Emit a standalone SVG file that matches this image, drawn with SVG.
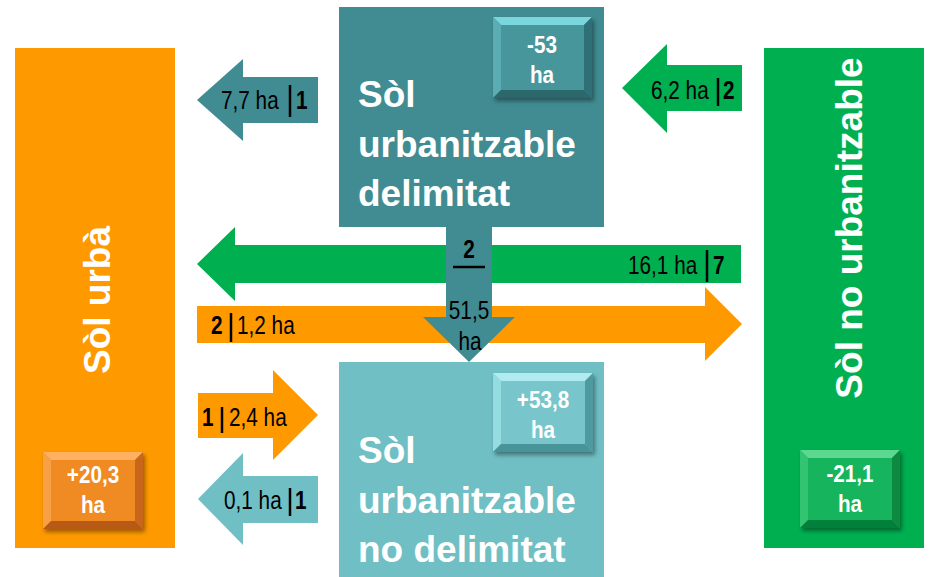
<svg xmlns="http://www.w3.org/2000/svg" width="930" height="577" viewBox="0 0 930 577">
<style>
.big{font-family:"Liberation Sans",Arial,sans-serif;font-weight:bold;font-size:37px;fill:#fff}
.badge{font-family:"Liberation Sans",Arial,sans-serif;font-weight:bold;font-size:23px;fill:#fff;text-anchor:middle}
.lbl{font-family:"Liberation Sans",Arial,sans-serif;font-size:25px;fill:#000}
.b{font-weight:bold}
.bar{stroke:#000;stroke-width:2.5}
</style>
<defs>
<filter id="sh" x="-20%" y="-20%" width="150%" height="150%">
<feDropShadow dx="2" dy="3" stdDeviation="2" flood-color="#000" flood-opacity="0.4"/>
</filter>
</defs>
<rect width="930" height="577" fill="#fff"/>

<g id="sol-urba">
<rect x="15" y="48" width="160" height="500" fill="#FF9900"/>
<text class="big" transform="translate(110,300) rotate(-90)" text-anchor="middle">Sòl urbà</text>
<g filter="url(#sh)">
<rect x="43" y="452" width="100" height="77" fill="#F08A24"/>
<polygon points="43,452 143,452 135,460 51,460" fill="#FFB060"/>
<polygon points="43,452 51,460 51,521 43,529" fill="#F7A045"/>
<polygon points="143,452 143,529 135,521 135,460" fill="#C8661A"/>
<polygon points="43,529 143,529 135,521 51,521" fill="#B85A12"/>
</g>
<text class="badge" transform="translate(93,483) scale(0.9,1)">+20,3</text>
<text class="badge" transform="translate(93,513) scale(0.9,1)">ha</text>
</g>

<g id="sol-no-urbanitzable">
<rect x="764" y="48" width="160" height="500" fill="#00B050"/>
<text class="big" transform="translate(862,228) rotate(-90)" text-anchor="middle">Sòl no urbanitzable</text>
<g filter="url(#sh)">
<rect x="800" y="450" width="100" height="78" fill="#14B45C"/>
<polygon points="800,450 900,450 892,458 808,458" fill="#5CD890"/>
<polygon points="800,450 808,458 808,520 800,528" fill="#30C470"/>
<polygon points="900,450 900,528 892,520 892,458" fill="#078A40"/>
<polygon points="800,528 900,528 892,520 808,520" fill="#06803A"/>
</g>
<text class="badge" transform="translate(850,482) scale(0.9,1)">-21,1</text>
<text class="badge" transform="translate(850,512) scale(0.9,1)">ha</text>
</g>

<g id="sol-urbanitzable-delimitat">
<rect x="339" y="7" width="265" height="220" fill="#408C92"/>
<text class="big" x="358" y="107">Sòl</text>
<text class="big" x="358" y="157">urbanitzable</text>
<text class="big" x="358" y="206">delimitat</text>
<g filter="url(#sh)">
<rect x="493" y="17" width="99" height="81" fill="#47969C"/>
<polygon points="493,17 592,17 584,25 501,25" fill="#7AD6DC"/>
<polygon points="493,17 501,25 501,90 493,98" fill="#5AADB3"/>
<polygon points="592,17 592,98 584,90 584,25" fill="#2F6F74"/>
<polygon points="493,98 592,98 584,90 501,90" fill="#2B676C"/>
</g>
<text class="badge" transform="translate(542,53) scale(0.9,1)">-53</text>
<text class="badge" transform="translate(542,83) scale(0.9,1)">ha</text>
</g>

<g id="sol-urbanitzable-no-delimitat">
<rect x="339" y="362" width="265" height="215" fill="#70BFC5"/>
<text class="big" x="358" y="463">Sòl</text>
<text class="big" x="358" y="513">urbanitzable</text>
<text class="big" x="358" y="562">no delimitat</text>
<g filter="url(#sh)">
<rect x="493" y="373" width="100" height="79" fill="#78C6CB"/>
<polygon points="493,373 593,373 585,381 501,381" fill="#B0ECEF"/>
<polygon points="493,373 501,381 501,444 493,452" fill="#95DCE0"/>
<polygon points="593,373 593,452 585,444 585,381" fill="#4E9A9F"/>
<polygon points="493,452 593,452 585,444 501,444" fill="#4A9499"/>
</g>
<text class="badge" transform="translate(543,408) scale(0.9,1)">+53,8</text>
<text class="badge" transform="translate(543,438) scale(0.9,1)">ha</text>
</g>

<g id="connectors">
<polygon points="318,77 243,77 243,59 197,100 243,141 243,123 318,123" fill="#408C92"/>
<text class="lbl" transform="translate(221,109) scale(0.83,1)">7,7 ha</text><line class="bar" x1="290" y1="85" x2="290" y2="117"/><text class="lbl b" transform="translate(296,109) scale(0.83,1)">1</text>

<polygon points="742,65 667,65 667,44 622,88 667,133 667,111 742,111" fill="#00B050"/>
<text class="lbl" transform="translate(651,99) scale(0.83,1)">6,2 ha</text><line class="bar" x1="718" y1="78" x2="718" y2="106"/><text class="lbl b" transform="translate(723,99) scale(0.83,1)">2</text>

<polygon points="741,245 235,245 235,227 197,264 235,301 235,283 741,283" fill="#00B050"/>
<text class="lbl" transform="translate(628,274) scale(0.83,1)">16,1 ha</text><line class="bar" x1="707" y1="250" x2="707" y2="282"/><text class="lbl b" transform="translate(713,274) scale(0.83,1)">7</text>

<polygon points="197,306 705,306 705,287 742,324 705,361 705,343 197,343" fill="#FF9900"/>
<text class="lbl b" transform="translate(211,334) scale(0.83,1)">2</text><line class="bar" x1="231" y1="313" x2="231" y2="342"/><text class="lbl" transform="translate(237,334) scale(0.83,1)">1,2 ha</text>

<polygon points="446,226 492,226 492,317 515,317 469,362 423,317 446,317" fill="#408C92"/>
<text class="lbl b" transform="translate(469,258) scale(0.83,1)" text-anchor="middle">2</text>
<line class="bar" x1="453" y1="267" x2="485" y2="267"/>
<text class="lbl" transform="translate(469,319) scale(0.83,1)" text-anchor="middle">51,5</text>
<text class="lbl" transform="translate(470,350) scale(0.83,1)" text-anchor="middle">ha</text>

<polygon points="198,393 273,393 273,370 318,415 273,460 273,438 198,438" fill="#FF9900"/>
<text class="lbl b" transform="translate(202,426) scale(0.83,1)">1</text><line class="bar" x1="222" y1="407" x2="222" y2="433"/><text class="lbl" transform="translate(229,426) scale(0.83,1)">2,4 ha</text>

<polygon points="318,476 243,476 243,453 198,499 243,545 243,523 318,523" fill="#70BFC5"/>
<text class="lbl" transform="translate(224,509) scale(0.83,1)">0,1 ha</text><line class="bar" x1="290" y1="488" x2="290" y2="516"/><text class="lbl b" transform="translate(295,509) scale(0.83,1)">1</text>
</g>
</svg>
